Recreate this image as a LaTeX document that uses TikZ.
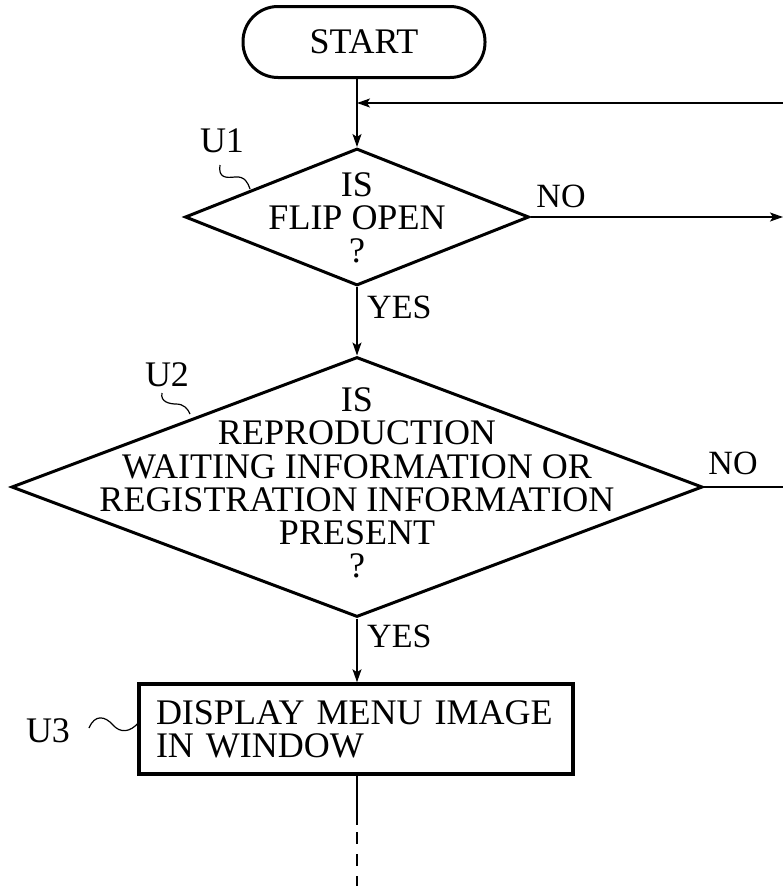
\documentclass[tikz,border=0pt]{standalone}
\usepackage{fontspec}
\setmainfont{Liberation Serif}
\usetikzlibrary{shapes.geometric,arrows.meta}
\begin{document}
\begin{tikzpicture}[x=1pt,y=-1pt,
  txt/.style={font=\fontsize{36}{33.3}\selectfont, inner sep=0pt, align=center},
  lbl/.style={font=\fontsize{34}{34}\selectfont, inner sep=0pt},
  term/.style={draw, line width=3pt, rounded corners=35pt, minimum width=242pt, minimum height=71pt, inner sep=0pt, font=\fontsize{36}{36}\selectfont},
  decision/.style={draw, diamond, line width=3pt, inner sep=0pt},
  procbox/.style={draw, rectangle, line width=3.5pt, inner xsep=17pt, inner ysep=0pt, minimum width=434pt, minimum height=90pt, text width=400pt, align=left, font=\fontsize{36}{33.3}\selectfont},
  conn/.style={line width=1.6pt},
  arr/.style={conn, -{Stealth[length=13pt,width=9pt,inset=3pt]}},
  squig/.style={line width=1.2pt}]
\useasboundingbox (0,0) rectangle (783,886);

% nodes
\node[term] (start) at (364,42) {START};
\node[decision, minimum width=344pt, minimum height=137pt] (u1) at (357,217) {};
\node[txt] (u1t) at (357,218) {IS\\FLIP OPEN\\?};
\node[decision, minimum width=691pt, minimum height=260pt] (u2) at (357,487) {};
\node[txt] (u2t) at (357,483) {IS\\REPRODUCTION\\WAITING INFORMATION OR\\REGISTRATION INFORMATION\\PRESENT\\?};
\node[procbox] (u3) at (356,729) {DISPLAY MENU IMAGE\\IN WINDOW};

% step labels
\node[txt] (l1) at (222,141) {U1};
\node[txt] (l2) at (167,375) {U2};
\node[txt] (l3) at (48,731) {U3};
\draw[squig] (220,165) .. controls (218,178) and (226,178) .. (235,177) .. controls (245,176) and (248,183) .. (250,189);
\draw[squig] (162,393) .. controls (160,402) and (170,404) .. (176,404) .. controls (184,404) and (188,409) .. (190,414);
\draw[squig] (89,728) .. controls (95,714) and (105,716) .. (113,725) .. controls (120,733) and (130,733) .. (139,722);

% yes/no labels
\node[lbl, anchor=west] (y1) at (367,307) {YES};
\node[lbl] (n1) at (561,196) {NO};
\node[lbl] (n2) at (733,463) {NO};
\node[lbl, anchor=west] (y2) at (367,636) {YES};

% coordinates
\coordinate (loopin) at (783,103);
\coordinate (u1out) at (783,217);
\coordinate (u2out) at (783,487);
\coordinate (d1) at (357,825);
\coordinate (d2) at (357,886);

% connectors
\draw[arr] (start.south -| u1.north) -- (u1.north);
\draw[arr] (loopin) -- (u1.north |- loopin);
\draw[arr] (u1.east) -- (u1out);
\draw[arr] (u1.south) -- (u2.north);
\draw[conn] (u2.east) -- (u2out);
\draw[arr] (u2.south) -- (u3.north -| u2.south);
\draw[conn] (u3.south -| u2.south) -- (d1);
\draw[conn, dash pattern=on 12pt off 10pt] (d1) ++(0,7) -- (d2);
\end{tikzpicture}
\end{document}
